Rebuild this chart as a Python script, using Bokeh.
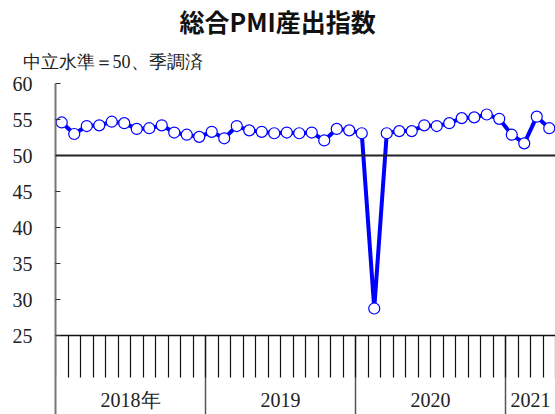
from bokeh.plotting import figure
from bokeh.models import LinearAxis, FixedTicker, Span, Title, ColumnDataSource, Range1d
from bokeh.embed import file_html
from bokeh.resources import INLINE

# ---- data ----
months = [f"{y}-{m:02d}" for y in (2018, 2019, 2020) for m in range(1, 13)] + \
         ["2021-01", "2021-02", "2021-03", "2021-04"]
pmi = [54.6, 53.0, 54.1, 54.2, 54.7, 54.5, 53.7, 53.8, 54.2, 53.2, 52.9, 52.6,
       53.3, 52.4, 54.1, 53.5, 53.3, 53.1, 53.2, 53.1, 53.2, 52.1, 53.7, 53.5,
       53.1, 28.8, 53.1, 53.4, 53.4, 54.2, 54.1, 54.5, 55.2, 55.3, 55.7, 55.1,
       52.9, 51.7, 55.4, 53.8]
year_labels = ["2018年", "2019", "2020", "2021"]
year_month_counts = [12, 12, 12, 4]
y_ticks = [25, 30, 35, 40, 45, 50, 55, 60]
neutral = 50

title_text = "総合PMI産出指数"
subtitle_text = "中立水準＝50、季調済"

# ---- derived positions ----
x_pos = [i + 0.5 for i in range(len(months))]
year_starts = []
acc = 0
for c in year_month_counts:
    year_starts.append(acc)
    acc += c
year_centers = [s + c / 2 for s, c in zip(year_starts, year_month_counts)]
month_bounds = list(range(0, len(months) + 1))

SERIF = "Liberation Serif"

p = figure(width=555, height=414, x_range=Range1d(0, len(months)),
           y_range=Range1d(14.1, 60), output_backend="svg", toolbar_location=None,
           x_axis_location=None, y_axis_location=None,
           min_border_left=55, min_border_right=0, min_border_bottom=0, min_border_top=82)
p.outline_line_color = None
p.xgrid.visible = False
p.ygrid.visible = False

# titles (first added is nearest the plot)
sub = Title(text=subtitle_text, align="left", offset=-33, text_font=SERIF,
            text_font_size="18px", text_font_style="normal", text_color="#222222",
            standoff=23)
p.add_layout(sub, "above")
main = Title(text=title_text, align="left", offset=124, text_font="Noto Sans CJK JP",
             text_font_size="25px", text_font_style="bold", text_color="#111111",
             standoff=0)
p.add_layout(main, "above")

# y axis
yax = LinearAxis(ticker=FixedTicker(ticks=y_ticks), major_tick_in=5, major_tick_out=0,
                 minor_tick_line_color=None, major_label_standoff=23,
                 major_label_text_font=SERIF, major_label_text_font_size="20px",
                 major_label_text_color="#222222",
                 axis_line_color="#777777", axis_line_width=2,
                 major_tick_line_color="#333333")
p.add_layout(yax, "left")

# x axis at 25 with month ticks and year separators (no labels of its own)
xax = LinearAxis(fixed_location=y_ticks[0],
                 ticker=FixedTicker(ticks=year_starts[1:], minor_ticks=month_bounds),
                 major_tick_in=0, major_tick_out=80, minor_tick_in=0, minor_tick_out=42,
                 major_tick_line_color="#555555", major_tick_line_width=1.5,
                 minor_tick_line_color="#111111", minor_tick_line_width=1.2,
                 axis_line_color="#111111", axis_line_width=1.5,
                 major_label_overrides={s: "" for s in year_starts[1:]},
                 major_label_text_font_size="10px")
p.add_layout(xax, "below")

# year labels axis
lab = LinearAxis(fixed_location=y_ticks[0],
                 ticker=FixedTicker(ticks=year_centers, minor_ticks=[]),
                 major_tick_in=0, major_tick_out=0, axis_line_color=None,
                 major_label_overrides={c: l for c, l in zip(year_centers, year_labels)},
                 major_label_standoff=53, major_label_text_font=SERIF,
                 major_label_text_font_size="20px", major_label_text_color="#222222")
p.add_layout(lab, "below")

# neutral line
p.add_layout(Span(location=neutral, dimension="width", line_color="#222222", line_width=2))

src = ColumnDataSource(dict(x=x_pos, y=pmi, m=months))
p.line("x", "y", source=src, line_color="#0000FF", line_width=4)
p.scatter("x", "y", source=src, size=11, marker="circle", fill_color="white",
          line_color="#0000FF", line_width=1.2)

open("out.html", "w").write(file_html(p, INLINE))
